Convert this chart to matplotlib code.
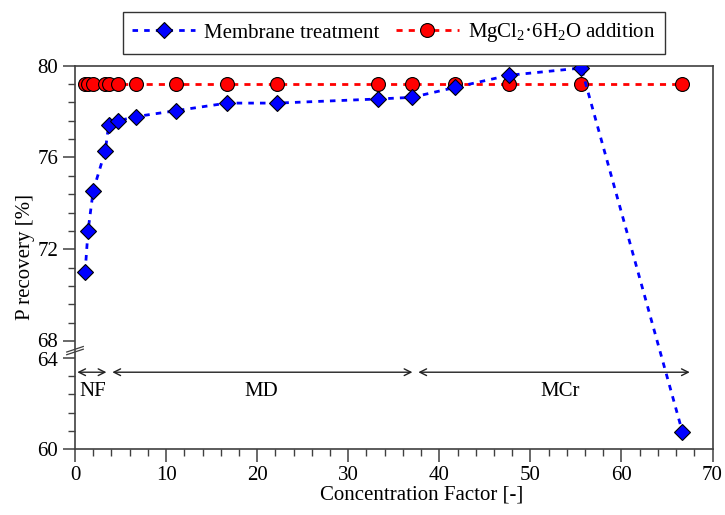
import numpy as np
import matplotlib
matplotlib.use("Agg")
import matplotlib.pyplot as plt
from matplotlib.scale import FuncScale

plt.rcParams['font.family'] = ['Liberation Serif', 'DejaVu Serif']
plt.rcParams['mathtext.fontset'] = 'custom'
plt.rcParams['mathtext.rm'] = 'Liberation Serif'
plt.rcParams['mathtext.it'] = 'Liberation Serif:italic'
plt.rcParams['mathtext.bf'] = 'Liberation Serif:bold'

# ---- data ----
conc_factor = [1.11, 1.43, 2.0, 3.33, 3.7, 4.76, 6.67, 11.1, 16.7, 22.2,
               33.3, 37.0, 41.7, 47.6, 55.6, 66.7]
membrane = [71.0, 72.8, 74.55, 76.3, 77.42, 77.6, 77.78, 78.04, 78.37, 78.37,
            78.55, 78.62, 79.05, 79.58, 79.9, 60.75]
mgcl2 = [79.2] * len(conc_factor)
series_labels = ["Membrane treatment", r"MgCl$_2$·6H$_2$O addition"]
regions = ["NF", "MD", "MCr"]
region_bounds = [(0.25, 3.45), (4.1, 37.05), (37.7, 67.5)]
region_text_x = [1.9, 20.5, 53.3]
x_label = "Concentration Factor [-]"
y_label = "P recovery [%]"
y_major = [60, 64, 68, 72, 76, 80]

# ---- broken axis scale ----
GAP = 0.72
def fwd(y):
    y = np.asarray(y, dtype=float)
    return np.where(y <= 64, y, np.where(y >= 68, y - 4 + GAP, 64 + (y - 64) * GAP / 4))
def inv(t):
    t = np.asarray(t, dtype=float)
    return np.where(t <= 64, t, np.where(t >= 64 + GAP, t + 4 - GAP, 64 + (t - 64) * 4 / GAP))

FS = 15
fig = plt.figure(figsize=(7.25, 5.15), dpi=100)
ax = fig.add_axes([75/725, 1 - 449.3/515, (712.5 - 75)/725, (449.3 - 65.7)/515])
ax.set_yscale(FuncScale(ax, (fwd, inv)))

l1, = ax.plot(conc_factor, membrane, color='#0000ff', lw=2.0, dashes=(2.0, 2.2),
              marker='D', markersize=8.2, markerfacecolor='#0000ff',
              markeredgecolor='black', markeredgewidth=0.8, zorder=3)
l2, = ax.plot(conc_factor, mgcl2, color='#ff0000', lw=2.0, dashes=(2.2, 2.2),
              marker='o', markersize=10, markerfacecolor='#ff0000',
              markeredgecolor='black', markeredgewidth=0.8, zorder=2)

ax.set_xlim(0, 70)
ax.set_ylim(60, 80)
ax.set_xticks(np.arange(0, 71, 10))
ax.set_xticks(np.arange(0, 71, 2), minor=True)
ax.set_yticks(y_major)
minor_y = list(np.arange(60, 64.01, 0.8)) + list(np.arange(68, 80.01, 0.8))
ax.set_yticks(minor_y, minor=True)
ax.set_yticklabels([str(v) for v in y_major])

ax.tick_params(axis='both', which='major', direction='out', length=9, width=1.1,
               labelsize=FS, color='#404040', top=False, right=False)
ax.tick_params(axis='both', which='minor', direction='out', length=5, width=1.0,
               color='#404040', top=False, right=False)
ax.tick_params(axis='x', which='major', pad=3)
ax.tick_params(axis='y', which='major', pad=3)
for s in ax.spines.values():
    s.set_color('#404040')
    s.set_linewidth(1.2)

ax.set_xlabel(x_label, fontsize=FS)
ax.xaxis.set_label_coords(0.544, -0.095)
ax.set_ylabel(y_label, fontsize=FS, labelpad=2)

# nudge the crowded 68 / 64 labels apart slightly, as in the reference
labels = ax.get_yticklabels()
from matplotlib.transforms import ScaledTranslation
for lab in labels:
    if lab.get_text() == '68':
        lab.set_transform(lab.get_transform() + ScaledTranslation(0, 1.5/100, fig.dpi_scale_trans))
    elif lab.get_text() == '64':
        lab.set_transform(lab.get_transform() + ScaledTranslation(0, -1.5/100, fig.dpi_scale_trans))

# break marks on the y axis
trans = ax.get_yaxis_transform()
for yy in (66.0, 65.35):
    yd = float(fwd(yy))
    ax.plot([-0.013, 0.013], [float(inv(yd - 0.12)), float(inv(yd + 0.12))],
            transform=trans, color='#404040', lw=0.9, clip_on=False, zorder=5)

# region arrows
y_arrow = 63.36
for name, (x0, x1), tx in zip(regions, region_bounds, region_text_x):
    ax.annotate('', xy=(x1, y_arrow), xytext=(x0, y_arrow),
                arrowprops=dict(arrowstyle='<->', color='#222222', lw=1.0,
                                shrinkA=0, shrinkB=0, mutation_scale=12))
    ax.text(tx, 62.5, name, ha='center', va='center', fontsize=FS)

leg = fig.legend([l1, l2], series_labels, loc='center',
                 bbox_to_anchor=(394/725, 1 - 33/515), ncol=2, fontsize=FS,
                 frameon=True, fancybox=False, edgecolor='black',
                 handlelength=3.0, columnspacing=0.8, handletextpad=0.45,
                 borderpad=0.45, borderaxespad=0)
leg.get_frame().set_linewidth(1.0)

fig.savefig("out.png", dpi=100)
